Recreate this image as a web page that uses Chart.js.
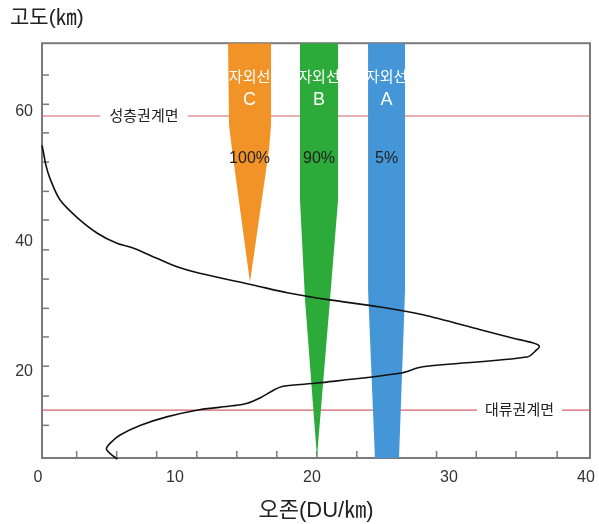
<!DOCTYPE html>
<html>
<head>
<meta charset="utf-8">
<script src="https://cdn.jsdelivr.net/npm/chart.js@4/dist/chart.umd.min.js"></script>
<style>
  body { margin: 0; background: #fff; }
  #wrap { width: 599px; height: 524px; }
</style>
</head>
<body>
<div id="wrap"><canvas id="ozone"></canvas></div>
<script>
// 오존 농도 곡선 (DU/km, km)
const ozoneX = [0, 0.07, 0.29, 0.58, 1.31, 2.55, 4.01, 5.47, 6.64, 8.39, 9.85, 11.5, 15.4, 17.9, 21.0, 24.7, 27.8, 32.0, 34.4, 35.8, 36.3, 36.1, 35.4, 27.8, 26.1, 20.1, 17.6, 16.9, 15.9, 15.0, 13.9, 11.5, 9.1, 7.2, 5.7, 5.0, 4.7, 5.0, 5.5];
const ozoneY = [54.9, 54.2, 51.8, 49.8, 46.5, 43.8, 41.4, 39.8, 39.1, 37.5, 36.2, 35.2, 33.4, 32.2, 31.1, 30.0, 28.8, 26.5, 25.2, 24.5, 24.0, 23.4, 22.3, 20.8, 19.8, 18.3, 17.8, 17.2, 16.0, 15.2, 14.8, 14.2, 13.1, 11.8, 10.3, 9.1, 8.2, 7.4, 6.6];

// 자외선 투과 영역 (다각형 꼭짓점)
const uvCX = [13.58, 16.72, 16.72, 16.57, 15.18, 13.87, 13.65];
const uvCY = [70.6, 70.6, 58.0, 54.2, 33.8, 54.2, 58.0];
const uvBX = [18.83, 21.61, 21.61, 21.02, 20.07, 19.2, 18.83];
const uvBY = [70.6, 70.6, 46.5, 31.1, 6.9, 31.1, 46.5];
const uvAX = [23.8, 26.5, 26.5, 26.06, 24.3, 23.8];
const uvAY = [70.6, 70.6, 32.6, 6.77, 6.77, 32.6];
const uvNames = ['C', 'B', 'A'];
const uvPercents = ['100%', '90%', '5%'];
const uvColors = ['#f29327', '#2caa3a', '#4596d6'];

// 권계면
const stratopause = 59.4;
const tropopause = 14.15;
const boundaryNames = ['성층권계면', '대류권계면'];
const stratoGap = [4.23, 10.66];
const tropoGap = [31.75, 37.96];

// 축
const xLabels = [0, 10, 20, 30, 40];
const yLabels = [20, 40, 60];
const xMinor = [2.53, 5.45, 8.37, 11.3, 14.22, 17.14, 20.06, 22.98, 25.9, 28.8, 31.7, 34.6, 37.6];
const yMinor = [65.7, 61.2, 56.8, 52.3, 47.8, 43.4, 38.8, 34.3, 29.8, 25.4, 20.9, 16.3, 11.8];
const yMin = 6.77, yMax = 70.6;

const chartFont = "'Liberation Sans', 'Noto Sans CJK KR', sans-serif";
const toPts = (xs, ys) => xs.map((x, i) => ({ x: x, y: ys[i] }));

function polyDataset(xs, ys, color) {
  return {
    data: toPts(xs, ys).concat([{ x: xs[0], y: ys[0] }]),
    showLine: true, pointRadius: 0, borderWidth: 0,
    borderColor: color, backgroundColor: color,
    fill: 'shape', tension: 0, order: 1, clip: false
  };
}
function redLine(x0, x1, y) {
  return {
    data: [{ x: x0, y: y }, { x: x1, y: y }],
    showLine: true, pointRadius: 0, borderWidth: 1.2,
    borderColor: '#d4606a', fill: false, order: 2
  };
}

const decor = {
  id: 'decor',
  beforeDatasetsDraw(chart) {
    const { ctx, chartArea: a, scales: { x, y } } = chart;
    ctx.save();
    ctx.strokeStyle = '#7a7a7a';
    ctx.lineWidth = 1.5;
    xMinor.forEach(v => {
      const px = x.getPixelForValue(v);
      ctx.beginPath(); ctx.moveTo(px, a.bottom); ctx.lineTo(px, a.bottom - 7); ctx.stroke();
    });
    yMinor.forEach(v => {
      const py = y.getPixelForValue(v);
      ctx.beginPath(); ctx.moveTo(a.left, py); ctx.lineTo(a.left + 7, py); ctx.stroke();
    });
    ctx.lineWidth = 2;
    ctx.strokeRect(a.left, a.top, a.right - a.left, a.bottom - a.top);
    ctx.restore();
  },
  afterDatasetsDraw(chart) {
    const { ctx, scales: { x, y } } = chart;
    ctx.save();
    ctx.textAlign = 'center';
    ctx.textBaseline = 'middle';
    const centers = [(uvCX[0] + uvCX[1]) / 2, (uvBX[0] + uvBX[1]) / 2, (uvAX[0] + uvAX[1]) / 2];
    centers.forEach((c, i) => {
      const px = x.getPixelForValue(c);
      ctx.fillStyle = '#fff';
      ctx.font = '15px ' + chartFont;
      ctx.fillText('자외선', px, y.getPixelForValue(65.2));
      ctx.font = '18px ' + chartFont;
      ctx.fillText(uvNames[i], px, y.getPixelForValue(61.8));
      ctx.fillStyle = '#222';
      ctx.font = '16px ' + chartFont;
      ctx.fillText(uvPercents[i], px, y.getPixelForValue(52.9));
    });
    ctx.fillStyle = '#222';
    ctx.font = '15px ' + chartFont;
    ctx.fillText(boundaryNames[0], x.getPixelForValue((stratoGap[0] + stratoGap[1]) / 2), y.getPixelForValue(stratopause) + 1);
    ctx.fillText(boundaryNames[1], x.getPixelForValue((tropoGap[0] + tropoGap[1]) / 2), y.getPixelForValue(tropopause) + 1);
    ctx.restore();
  }
};

new Chart(document.getElementById('ozone'), {
  type: 'scatter',
  data: {
    datasets: [
      {
        data: toPts(ozoneX, ozoneY),
        showLine: true, pointRadius: 0, borderWidth: 1.6,
        borderColor: '#111', tension: 0.3, fill: false, order: 0, clip: false
      },
      polyDataset(uvCX, uvCY, uvColors[0]),
      polyDataset(uvBX, uvBY, uvColors[1]),
      polyDataset(uvAX, uvAY, uvColors[2]),
      redLine(0, stratoGap[0], stratopause),
      redLine(stratoGap[1], 40, stratopause),
      redLine(0, tropoGap[0], tropopause),
      redLine(tropoGap[1], 40, tropopause)
    ]
  },
  options: {
    responsive: true,
    maintainAspectRatio: false,
    animation: false,
    layout: { padding: { left: 10, right: 9, top: 0, bottom: 0 } },
    plugins: {
      legend: { display: false },
      tooltip: { enabled: false },
      title: {
        display: true, text: '고도(㎞)', align: 'start', color: '#222',
        font: { family: chartFont, size: 21, weight: 'normal' },
        padding: { top: 6, bottom: 12 }
      }
    },
    scales: {
      x: {
        type: 'linear', min: 0, max: 40,
        afterBuildTicks: s => { s.ticks = xLabels.map(v => ({ value: v })); },
        afterFit: s => { s.height = 66; s.paddingLeft = 0; s.paddingRight = 0; },
        grid: { display: false, drawTicks: false },
        border: { display: false },
        ticks: { color: '#333', padding: 10, labelOffset: -4, font: { family: chartFont, size: 16 } },
        title: {
          display: true, text: '오존(DU/㎞)', color: '#222',
          font: { family: chartFont, size: 22 }, padding: { top: 6, bottom: 0 }
        }
      },
      y: {
        type: 'linear', min: yMin, max: yMax,
        afterBuildTicks: s => { s.ticks = yLabels.map(v => ({ value: v })); },
        afterFit: s => { s.width = 32; s.paddingTop = 0; s.paddingBottom = 0; },
        grid: { display: false, drawTicks: false },
        border: { display: false },
        ticks: { color: '#333', padding: 9, font: { family: chartFont, size: 16 } }
      }
    }
  },
  plugins: [decor]
});
</script>
</body>
</html>
